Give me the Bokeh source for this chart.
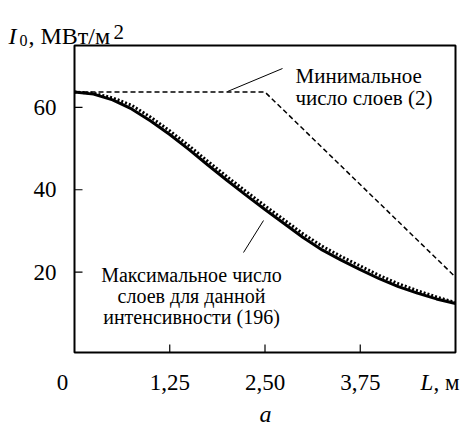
from bokeh.plotting import figure
from bokeh.models import Label, Range1d
from bokeh.core.properties import value
from bokeh.embed import file_html
from bokeh.resources import INLINE

# Data
L = [0.0, 0.25, 0.5, 0.75, 1.0, 1.25, 1.5, 1.75, 2.0, 2.25, 2.5,
     2.75, 3.0, 3.25, 3.5, 3.75, 4.0, 4.25, 4.5, 4.75, 5.0]
I_max = [63.7, 63.2, 61.8, 59.6, 56.7, 53.4, 49.8, 46.0, 42.3, 38.7, 35.2,
         31.8, 28.4, 25.4, 22.9, 20.6, 18.4, 16.5, 14.9, 13.5, 12.4]
I_dotted = [63.7, 63.4, 62.3, 60.5, 57.6, 54.3, 50.7, 46.9, 43.2, 39.6, 36.1,
            32.7, 29.3, 26.3, 23.8, 21.5, 19.2, 17.2, 15.5, 14.0, 12.6]
L_min = [0.0, 2.5, 5.0]
I_min = [63.7, 63.7, 18.8]

x_ticks = [1.25, 2.5, 3.75]
x_tick_labels = ["1,25", "2,50", "3,75"]
y_ticks = [20, 40, 60]
y_tick_labels = ["20", "40", "60"]

# axis limits of the plotting box
X_MIN, X_MAX = 0.0, 5.0
Y_MIN, Y_MAX = 0.5, 75.0

FONT = "Liberation Serif"

W, H = 464, 429
# pixel position of the plotting box in the canvas
BL, BR, BT, BB = 74, 455, 45, 352


def dx(px):
    return X_MIN + (px - BL) / (BR - BL) * (X_MAX - X_MIN)


def dy(py):
    return Y_MIN + (BB - py) / (BB - BT) * (Y_MAX - Y_MIN)


p = figure(width=W, height=H, output_backend="svg", toolbar_location=None,
           x_range=Range1d(dx(0), dx(W)), y_range=Range1d(dy(H), dy(0)),
           min_border=0, x_axis_location=None, y_axis_location=None)
p.grid.visible = False
p.outline_line_color = None
p.background_fill_color = "white"
p.border_fill_color = "white"

# plotting box
p.quad(left=[X_MIN], right=[X_MAX], bottom=[Y_MIN], top=[Y_MAX],
       fill_color=None, line_color="black", line_width=2)

# inward ticks (8 px)
tick_dx = dx(BL + 8) - dx(BL)
tick_dy = dy(BB - 8) - dy(BB)
p.segment(x0=x_ticks, y0=[Y_MIN] * len(x_ticks), x1=x_ticks,
          y1=[Y_MIN + tick_dy] * len(x_ticks), line_color="black", line_width=1.2)
p.segment(x0=[X_MIN] * len(y_ticks), y0=y_ticks, x1=[X_MIN + tick_dx] * len(y_ticks),
          y1=y_ticks, line_color="black", line_width=1.2)

# tick labels
p.text(x=x_ticks, y=[dy(382)] * len(x_ticks), text=x_tick_labels,
       text_font=value(FONT), text_font_size="23px", text_align="center",
       text_baseline="alphabetic", text_color="black")
p.text(x=[dx(56)] * len(y_ticks), y=y_ticks, text=y_tick_labels,
       text_font=value(FONT), text_font_size="23px", text_align="right",
       text_baseline="middle", text_color="black")

# Curves
p.line(L_min, I_min, line_color="black", line_width=1.5, line_dash="5 3")
p.line(L, I_dotted, line_color="black", line_width=3, line_dash="2 2")
p.line(L, I_max, line_color="black", line_width=3)

# Leader lines
p.line([dx(227), dx(282)], [dy(91), dy(68)], line_color="black", line_width=1)
p.line([dx(263), dx(243)], [dy(220), dy(252)], line_color="black", line_width=1)


def lab(text, px, py, size="20px", align="left", baseline="alphabetic", style="normal"):
    # canvas coordinates: x from left, y from top
    p.add_layout(Label(x=px, y=py, x_units="canvas", y_units="canvas",
                       text=text, text_font=FONT,
                       text_font_size=size, text_align=align,
                       text_baseline=baseline, text_font_style=style,
                       text_color="black"))


lab("Минимальное", 295, 75, size="21px")
lab("число слоев (2)", 295, 97, size="21px")
lab("Максимальное число", 191, 274, align="center")
lab("слоев для данной", 191, 295, align="center")
lab("интенсивности (196)", 191, 316, align="center")

# Axis texts
lab("0", 62, 382, size="23px", align="center")
lab("L", 420, 382, size="23px", style="italic")
lab(", м", 433, 382, size="23px")
lab("a", 265, 413, size="24px", align="center", style="italic")

# Y title: I0, МВт/м2
lab("I", 8, 35, size="24px", style="italic")
lab("0", 19, 40, size="16px")
lab(", МВт/м", 28, 35, size="24px")
lab("2", 113, 31, size="21px")

open("out.html", "w").write(file_html(p, INLINE))
